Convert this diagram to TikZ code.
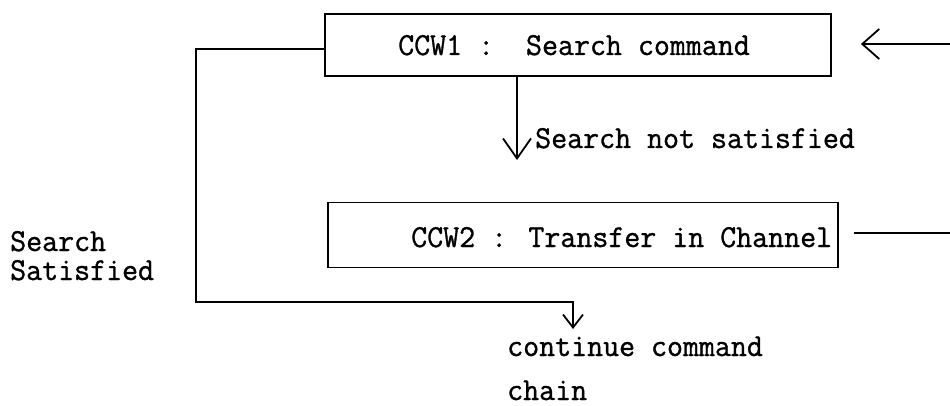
\documentclass[tikz,border=0pt]{standalone}
\usepackage{fontspec}
\newfontfamily\tw[FakeStretch=0.97,FakeBold=1]{Latin Modern Mono}
\usetikzlibrary{arrows.meta}
\begin{document}
\begin{tikzpicture}[x=1pt,y=-1pt,
  box/.style={draw, line width=1.8pt, inner sep=0pt},
  lbl/.style={font=\tw\fontsize{32}{29}\selectfont, inner sep=0pt, anchor=base west},
  conn/.style={line width=1.8pt},
]
\useasboundingbox (0,0) rectangle (950,406);
\node[box, minimum width=506pt, minimum height=62pt] (b1) at (578,45) {};
\node[lbl] (t1) at (398,55) {CCW1 :\ \ Search command};
\node[box, minimum width=510pt, minimum height=65pt] (b2) at (583,235) {};
\node[lbl] (t2) at (411,247) {CCW2 : Transfer in Channel};
\node[lbl] (nsat) at (535,148) {Search not satisfied};
\node[lbl, align=left] (ss) at (10,280) {Search\\Satisfied};
\node[lbl] (c1) at (507,356) {continue command};
\node[lbl] (c2) at (507,400) {chain};
\coordinate (ntip) at (517,160);
\draw[conn, -{Straight Barb[length=20pt,width=28pt]}] (ntip |- b1.south) -- (ntip);
\coordinate (lcorner) at (196,302);
\coordinate (ctip) at (573,329);
\draw[conn, -{Straight Barb[length=13pt,width=20pt]}] ([yshift=-4pt]b1.west) -| (lcorner) -| (ctip);
\coordinate (rin) at (950,44);
\draw[conn, -{Straight Barb[length=17pt,width=30pt]}] (rin) -- ([xshift=29pt,yshift=1pt]b1.east);
\coordinate (rout) at (950,233);
\draw[conn] ([xshift=15pt,yshift=2pt]b2.east) -- (rout);
\end{tikzpicture}
\end{document}
